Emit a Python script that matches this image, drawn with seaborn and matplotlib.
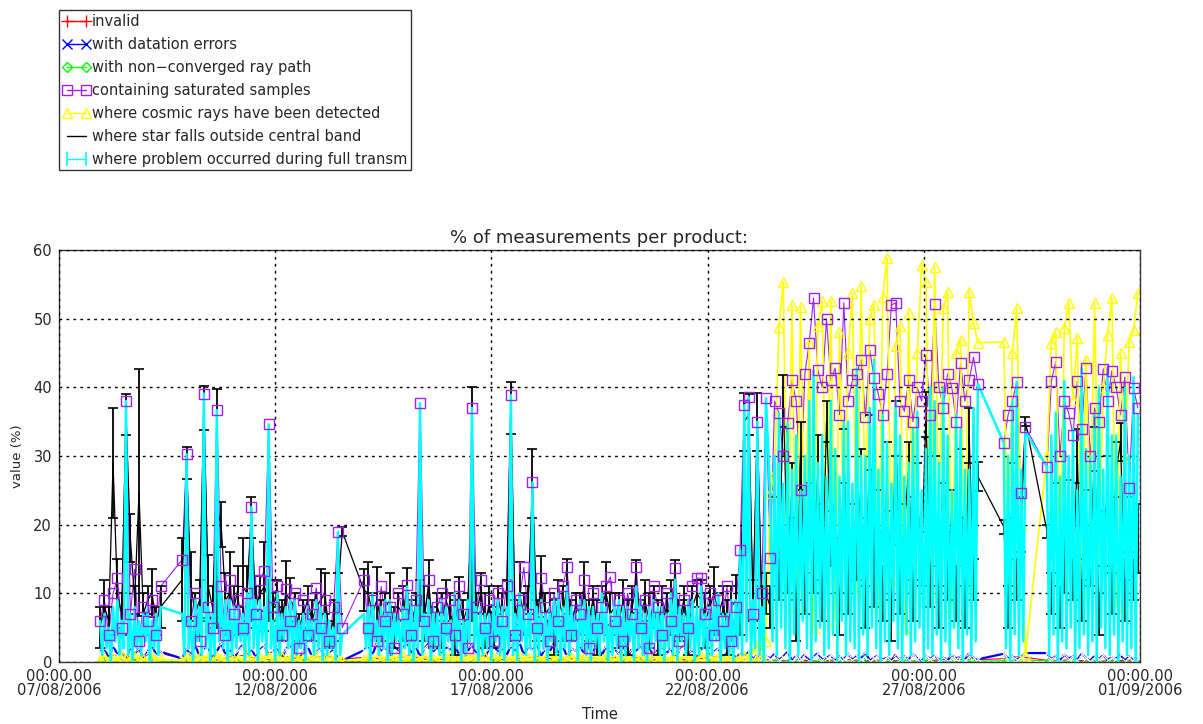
import numpy as np
import pandas as pd
import matplotlib
matplotlib.use("Agg")
import matplotlib.pyplot as plt
from matplotlib.lines import Line2D
import seaborn as sns

# ---------------- data ----------------
# start of each continuous block of products (days after 07/08/2006 00:00), one product every 0.1 day
seg_start = [0.95, 2.85, 7.05, 16.45, 21.85, 22.85]
sample_step = 0.1

# where problem occurred during full transm (cyan), main samples (local maxima)
problem_A = [6, 7, 5, 8, 9, 6, 38, 7, 8, 6, 7, 8, 6, 7, 8]
problem_B = [7, 30.3, 6, 9, 8, 39.1, 8, 7, 36.7, 10,
             9, 9, 8, 8, 7, 10, 22.6, 9, 9, 8,
             34.6, 6, 10, 7, 8, 9, 9, 6, 7, 8,
             6, 9, 8, 7, 6, 5, 18.9, 4]
problem_C = [7, 8, 10, 6, 8, 9, 9, 7, 7, 8,
             11, 9, 8, 37.7, 7, 9, 8, 7, 9, 8,
             6, 10, 9, 6, 9, 37, 8, 8, 7, 7,
             9, 9, 8, 8, 38.9, 7, 10, 8, 7, 26.2,
             8, 9, 7, 8, 9, 10, 8, 11, 8, 7,
             9, 9, 8, 8, 7, 10, 8, 7, 9, 9,
             8, 8, 7, 11, 9, 7, 8, 9, 8, 8,
             7, 10, 12, 8, 7, 9, 9, 8, 11, 7,
             8, 9, 10, 7, 7, 9, 9, 16.3, 37.4, 38.6,
             9, 35, 8, 38.4]
problem_D = [24, 30, 36.2, 26, 34.8, 28, 33, 25, 30, 38,
             42.5, 29, 33, 27, 38, 31, 27, 35, 35, 26,
             42.8, 30, 30, 37, 44, 28, 36, 32, 26, 38,
             33, 27, 29, 34, 36.5, 25, 31, 40, 38, 29,
             39.9, 33, 25, 36, 34, 28, 28, 37, 40.5]
problem_E = [31.9, 30, 38, 40.8, 28, 33.5]
problem_F = [28.4, 33, 36.3, 27, 40.9, 30, 34, 25, 42.8, 31,
             30, 36, 40, 28, 42.7, 33, 33, 27, 39.9, 30,
             41.5, 36]
# cyan intermediate samples (local minima, half-way between consecutive main samples)
problem_mid_A = [1, 2, 0, 3, 1, 2, 1, 0, 2, 1, 3, 0, 2, 1]
problem_mid_B = [1, 2, 0, 3, 1, 2, 0, 1, 3, 2,
                 0, 1, 2, 3, 0, 1, 2, 0, 3, 1,
                 2, 0, 1, 3, 2, 0, 1, 2, 0, 3,
                 1, 2, 0, 1, 2, 0, 1]
problem_mid_C = [2, 0, 3, 1, 2, 0, 1, 3, 0, 2,
                 1, 0, 2, 1, 3, 0, 2, 1, 0, 3,
                 1, 2, 0, 1, 3, 2, 0, 1, 2, 0,
                 3, 1, 0, 2, 1, 0, 3, 1, 2, 0,
                 1, 2, 0, 3, 1, 0, 2, 1, 3, 0,
                 2, 1, 0, 2, 1, 3, 0, 1, 2, 0,
                 1, 3, 0, 2, 1, 0, 2, 3, 1, 0,
                 2, 1, 0, 3, 1, 2, 0, 1, 2, 0,
                 1, 3, 0, 2, 1, 0, 2, 1, 3, 0,
                 2, 1, 0]
problem_mid_D = [3, 1, 5, 2, 0, 4, 1, 6, 2, 0,
                 3, 5, 1, 2, 4, 0, 6, 1, 3, 2,
                 0, 4, 1, 5, 2, 0, 3, 1, 6, 2,
                 0, 4, 1, 3, 5, 0, 2, 1, 4, 0,
                 3, 1, 5, 2, 0, 4, 1, 3]
problem_mid_E = [2, 0, 4, 1, 3]
problem_mid_F = [1, 4, 0, 3, 2, 5, 0, 2, 4, 1,
                 3, 0, 5, 2, 1, 4, 0, 3, 1, 2,
                 0]

# containing saturated samples (purple)
saturated_A = [6, 9, 4, 10, 12.2, 5, 38, 7, 13.5, 3, 8, 6, 9, 4, 11]
saturated_B = [14.9, 30.3, 6, 10, 3, 39.1, 8, 5, 36.7, 11,
               4, 12, 7, 9, 5, 10, 22.6, 7, 12, 13.3,
               34.6, 8, 11, 4, 10.6, 6, 10, 2, 9, 4,
               7, 10.8, 5, 9, 3, 8, 18.9, 5]
saturated_C = [12, 5, 9, 3, 11, 6, 8, 2, 10, 7,
               11.2, 4, 9, 37.7, 6, 12, 3, 8, 10, 5,
               9, 4, 11, 7, 2, 37, 8, 12, 5, 9,
               3, 10, 6, 11, 38.9, 4, 9, 13.8, 7, 26.2,
               5, 12.2, 8, 3, 10, 6, 11, 13.8, 4, 9,
               7, 12, 2, 10, 5, 8, 11, 12.4, 6, 9,
               3, 10, 7, 13.8, 5, 9, 2, 11, 8, 4,
               10, 6, 13.7, 3, 9, 5, 11, 12.2, 12.2, 7,
               10, 4, 9, 6, 11, 3, 8, 16.3, 37.4, 38.6,
               7, 35, 10, 38.4]
saturated_D = [15.1, 38, 36.2, 30, 34.8, 41, 38, 25, 42, 46.5,
               53, 42.5, 40, 50, 41, 42.8, 36, 52.3, 38, 41,
               42, 44, 35.7, 45.4, 41.4, 39, 36, 42, 52, 52.3,
               38, 36.5, 41, 35, 40, 38, 44.7, 36, 52.1, 40,
               37, 42, 39.9, 35, 43.5, 38, 41, 44.4, 40.5]
saturated_E = [31.9, 36, 38, 40.8, 24.6, 34.2]
saturated_F = [28.4, 40.9, 43.7, 30, 38, 36.3, 33, 40.9, 34, 42.8,
               30, 37, 35, 42.7, 38, 42.4, 40, 36, 41.5, 25.3,
               39.9, 37]

# where star falls outside central band (black) and its error
star_A = [5, 8, 6, 29, 10, 7, 36, 18, 9, 24.7, 7, 9, 10, 6, 8]
star_B = [12, 29, 11, 7, 9, 37, 11, 8, 22.4, 20,
          9, 10, 8, 11, 11, 10, 21, 8, 10, 11,
          9, 8, 10, 6, 10, 9, 8, 5, 7, 9,
          6, 8, 9, 10, 4, 6, 10, 19]
star_C = [10.5, 10, 7, 9, 6, 8, 9, 5, 8, 7,
          10, 6, 8, 9, 7, 11, 5, 8, 6, 9,
          7, 5, 9, 6, 8, 23, 7, 10, 6, 8,
          5, 9, 7, 8, 37, 6, 10, 7, 9, 26,
          6, 11, 7, 8, 5, 9, 7, 11, 6, 8,
          7, 10, 6, 9, 5, 8, 10, 7, 8, 6,
          9, 5, 8, 11, 7, 9, 6, 8, 5, 9,
          7, 8, 11, 6, 9, 5, 8, 10, 9, 6,
          8, 10, 7, 9, 5, 8, 9, 7, 35, 36,
          9, 35, 8, 10]
star_D = [8, 20, 12, 38, 15, 25, 6, 30, 10, 22,
          14, 28, 9, 35, 18, 24, 7, 30, 12, 20,
          16, 26, 8, 32, 14, 22, 10, 27, 6, 34,
          12, 20, 28, 9, 24, 15, 36, 11, 25, 8,
          30, 14, 22, 10, 26, 8, 33, 12, 27]
star_E = [19.7, 8, 25, 12, 20, 35]
star_F = [19, 10, 22, 8, 15, 22, 12, 30, 9, 20,
          14, 31, 7, 18, 25, 10, 28, 32, 9, 20,
          12, 18]
star_err_A = [3, 4, 2, 8, 5, 3, 3, 3.5, 2, 18, 3, 2, 3.5, 2, 3]
star_err_B = [6, 2.3, 5, 3, 3, 3.2, 4.6, 3, 17.4, 3.3,
              4, 6, 3, 3, 7, 4, 3, 3, 2.5, 6.5,
              3, 2, 2, 3, 4.7, 3.2, 2, 2, 2, 2,
              3, 2, 4.5, 3, 2, 3, 3, 0.7]
star_err_C = [3, 4.6, 3, 4.8, 3, 2, 4, 3, 2, 4,
              3.7, 3, 2, 3, 4, 3.8, 3, 2, 4, 3,
              3, 4, 3.4, 3, 2, 17, 3, 3, 4, 3,
              3, 2, 3, 4, 3.8, 3, 4.6, 3, 2, 5,
              3, 4.4, 3, 2, 4, 3, 4, 4, 3, 2,
              3, 4.6, 3, 2, 4, 3, 4.6, 3, 2, 4,
              3, 4, 3, 3.8, 2, 3, 4, 3, 4, 2,
              3, 4, 3.8, 3, 2, 4, 3, 2, 3, 4,
              3, 3.8, 3, 2, 4, 3, 3.7, 3, 4.2, 3,
              3, 4.2, 3, 3]
star_err_D = [3, 4, 3, 3.8, 5, 4, 3, 5, 3, 4,
              4, 5, 3, 3, 4, 6, 3, 4, 5, 3,
              4, 5, 3, 4, 6, 3, 4, 5, 3, 4,
              5, 3, 4, 3, 5, 4, 3.3, 3, 5, 3,
              4, 5, 3, 4, 5, 3, 4, 3, 2.1]
star_err_E = [1, 3, 4, 3, 4, 0.7]
star_err_F = [1, 3, 4, 3, 5, 4.5, 3, 4, 3, 5,
              3, 3.2, 3, 4, 5, 3, 4, 2.8, 3, 4,
              3, 5]

# where cosmic rays have been detected (yellow)
cosmic_A = [0.3, 0.8, 0.2, 0.6, 0.1, 0.9, 0.4, 0.2, 0.7, 0.3, 0.5, 0.1, 0.8, 0.2, 0.4]
cosmic_B = [0.2, 0.7, 0.1, 0.5, 0.9, 0.3, 0.6, 0.1, 0.8, 0.4,
            0.2, 0.7, 0.3, 0.5, 0.1, 0.9, 0.4, 0.2, 0.6, 0.3,
            0.8, 0.1, 0.5, 0.7, 0.2, 0.4, 0.9, 0.3, 0.6, 0.1,
            0.5, 0.8, 0.2, 0.4, 0.7, 0.3, 0.1, 0.2]
cosmic_C = [0.3, 0.6, 0.2, 0.8, 0.4, 0.1, 0.7, 0.3, 0.5, 0.9,
            0.2, 0.6, 0.4, 0.1, 0.8, 0.3, 0.5, 0.2, 0.7, 0.4,
            0.9, 0.1, 0.6, 0.3, 0.5, 0.8, 0.2, 0.4, 0.7, 0.1,
            0.6, 0.3, 0.9, 0.2, 0.5, 0.4, 0.8, 0.1, 0.6, 0.3,
            0.7, 0.2, 0.5, 0.9, 0.3, 0.6, 0.1, 0.4, 0.8, 0.2,
            0.5, 0.7, 0.3, 0.1, 0.6, 0.4, 0.9, 0.2, 0.5, 0.3,
            0.8, 0.1, 0.6, 0.4, 0.7, 0.2, 0.5, 0.9, 0.3, 0.6,
            0.1, 0.4, 0.8, 0.2, 0.7, 0.3, 0.5, 0.1, 0.9, 0.4,
            0.6, 0.2, 0.8, 0.3, 0.5, 0.7, 0.1, 0.4, 0.9, 0.6,
            1.2, 2.5, 0.8, 3.1]
cosmic_D = [24.6, 27.7, 48.8, 55.3, 10, 52, 8, 51.7, 15, 46.5,
            5, 49, 52.6, 12, 52.6, 6, 48, 18, 45, 53.7,
            10, 54.8, 20, 50, 52, 8, 53.2, 58.8, 12, 46,
            49, 5, 50.8, 15, 45, 57.8, 55.3, 10, 57.5, 20,
            51.5, 53.9, 8, 45, 46.9, 12, 53.9, 49.4, 46.5]
cosmic_E = [46.6, 12, 45, 51.5, 20, 1]
cosmic_F = [30, 46.5, 48, 12, 48.6, 52.3, 38.2, 47.2, 10, 44,
            20, 52.3, 15, 40, 47.6, 53, 8, 45, 30, 46.6,
            48.3, 53.7]

# with datation errors (blue)
datation_A = [1.5, 2, 0.5, 2.5, 1, 1.8, 0.3, 2.2, 1, 2, 0.5, 1.5, 2.5, 1, 1.5]
datation_B = [0.5, 2, 1, 2.5, 0.8, 1.8, 2.2, 0.5, 1.5, 2.8,
              1, 2, 0.4, 1.7, 2.5, 1, 2, 0.6, 1.8, 2.4,
              1, 1.5, 2.2, 0.5, 1.9, 2.6, 1.1, 0.4, 1.6, 2.3,
              0.8, 1.4, 2, 0.6, 1.2, 1.8, 0.5, 0.2]
datation_C = [1.7, 2.5, 1, 2.8, 1.5, 2.2, 0.8, 2.6, 1.4, 2,
              2.9, 1.2, 2.4, 0.7, 2, 2.7, 1.3, 2.3, 1, 2.5,
              1.6, 2.8, 0.9, 2.1, 1.5, 2.6, 1.1, 2.4, 0.6, 2,
              2.7, 1.3, 2.2, 0.9, 2.5, 1.4, 2.9, 1, 2.3, 1.7,
              2.6, 0.8, 2.1, 1.5, 2.8, 1.2, 2.4, 0.7, 2, 1.6,
              2.5, 1, 2.2, 1.4, 2.7, 0.9, 2.3, 1.3, 2, 1.1,
              2.4, 0.8, 1.9, 1.5, 2.6, 1, 2.2, 0.7, 1.8, 2.3,
              1.2, 2, 0.6, 1.7, 2.4, 1, 1.9, 0.5, 1.6, 2.1,
              0.9, 1.5, 2, 0.6, 1.4, 1.8, 0.5, 1.2, 0.8, 1.5,
              0.4, 1.1, 0.6, 0.9]
datation_D = [0.5, 1.2, 0.3, 0.8, 1.5, 0.2, 0.9, 0.4, 1.1, 0.2,
              0.7, 1.3, 0.3, 0.6, 1, 0.2, 0.8, 0.4, 1.2, 0.3,
              0.9, 0.5, 1.4, 0.2, 0.6, 1, 0.3, 0.7, 0.2, 1.1,
              0.4, 0.8, 0.3, 1.2, 0.5, 0.2, 0.9, 0.4, 1, 0.3,
              0.7, 0.2, 1.1, 0.5, 0.8, 0.3, 1.3, 0.6, 0.4]
datation_E = [1.2, 0.5, 0.9, 0.3, 0.7, 1.3]
datation_F = [1.3, 0.4, 0.9, 0.2, 1.1, 0.5, 0.8, 0.3, 1.2, 0.6,
              0.2, 0.9, 0.4, 1, 0.3, 0.7, 0.5, 1.1, 0.2, 0.8,
              0.4, 0.6]

# invalid (red) and non-converged ray path (green), sparser sampling
sparse_days = [1.0, 1.4, 1.8, 2.2,
               2.9, 3.3, 3.7, 4.1, 4.5, 4.9, 5.3, 5.7, 6.1, 6.5,
               7.1, 7.6, 8.1, 8.6, 9.1, 9.6, 10.1, 10.6, 11.1, 11.6,
               12.1, 12.6, 13.1, 13.6, 14.1, 14.6, 15.1, 15.6, 16.1,
               16.6, 17.1, 17.6, 18.1, 18.6, 19.1, 19.6, 20.1, 20.6, 21.1,
               21.9, 22.2,
               22.9, 23.4, 23.9, 24.4, 24.9]
invalid_vals = [0.5, 1.2, 0.3, 1.5,
                0.4, 0.9, 0.2, 1.1, 0.6, 0.3, 0.8, 0.2, 1, 0.4,
                0.7, 0.3, 0.9, 0.2, 0.6, 1.1, 0.3, 0.5, 0.8, 0.2,
                0.7, 0.4, 0.9, 0.3, 0.6, 0.2, 0.8, 0.4, 0.5,
                0.2, 0.3, 0.1, 0.4, 0.2, 0.3, 0.1, 0.2, 0.4, 0.3,
                0.5, 0.8,
                0.2, 0.3, 0.1, 0.2, 0.3]
nonconv_vals = [0.1, 0.0, 0.2, 0.1,
                0.0, 0.1, 0.0, 0.2, 0.1, 0.0, 0.1, 0.2, 0.0, 0.1,
                0.0, 0.1, 0.2, 0.0, 0.1, 0.0, 0.1, 0.0, 0.2, 0.1,
                0.0, 0.1, 0.0, 0.2, 0.1, 0.0, 0.1, 0.0, 0.1,
                0.2, 0.0, 0.1, 0.0, 0.1, 0.0, 0.2, 0.1, 0.0, 0.1,
                0.2, 0.3,
                0.2, 0.1, 0.0, 0.1, 0.0]

tick_dates = ["2006-08-07", "2006-08-12", "2006-08-17", "2006-08-22", "2006-08-27", "2006-09-01"]
tick_labels = ["00:00.00\n07/08/2006", "00:00.00\n12/08/2006", "00:00.00\n17/08/2006",
               "00:00.00\n22/08/2006", "00:00.00\n27/08/2006", "00:00.00\n01/09/2006"]
y_ticks = [0, 10, 20, 30, 40, 50, 60]

# ---------------- assemble ----------------
main_segs = [problem_A, problem_B, problem_C, problem_D, problem_E, problem_F]
mid_segs = [problem_mid_A, problem_mid_B, problem_mid_C, problem_mid_D, problem_mid_E, problem_mid_F]
saturated = np.concatenate([saturated_A, saturated_B, saturated_C, saturated_D, saturated_E, saturated_F])
star = np.concatenate([star_A, star_B, star_C, star_D, star_E, star_F])
star_err = np.concatenate([star_err_A, star_err_B, star_err_C, star_err_D, star_err_E, star_err_F])
cosmic = np.concatenate([cosmic_A, cosmic_B, cosmic_C, cosmic_D, cosmic_E, cosmic_F])
datation = np.concatenate([datation_A, datation_B, datation_C, datation_D, datation_E, datation_F])
seg_days = [s + sample_step * np.arange(len(m)) for s, m in zip(seg_start, main_segs)]
days = np.concatenate(seg_days)

# cyan: main samples interleaved with the intermediate ones
cy_days, cy_vals = [], []
for d, m, h in zip(seg_days, main_segs, mid_segs):
    for i in range(len(m)):
        cy_days.append(d[i]); cy_vals.append(m[i])
        if i < len(h):
            cy_days.append(d[i] + sample_step / 2); cy_vals.append(h[i])

base = pd.Timestamp("2006-08-07")
times = base + pd.to_timedelta(days, unit="D")
cy_times = base + pd.to_timedelta(np.array(cy_days), unit="D")
sparse_times = base + pd.to_timedelta(np.array(sparse_days), unit="D")

# ---------------- plot ----------------
sns.set_style("white")
plt.rcParams["font.family"] = ["DejaVu Sans"]

fig = plt.figure(figsize=(12.03, 7.24), dpi=100)
ax = fig.add_axes([59 / 1203, 1 - 662 / 724, (1140 - 59) / 1203, (662 - 250) / 724])

RED, BLUE, GREEN = "#ff0000", "#0000ff", "#00ff00"
PURPLE, YELLOW, BLACK, CYAN = "#a020f0", "#ffff00", "#000000", "#00ffff"

sns.lineplot(x=sparse_times, y=invalid_vals, ax=ax, color=RED, lw=0.8, marker="+", ms=7,
             mew=1, estimator=None, zorder=2.0)
sns.lineplot(x=sparse_times, y=nonconv_vals, ax=ax, color=GREEN, lw=0.8, marker="D", ms=4,
             mfc="none", mec=GREEN, estimator=None, zorder=2.1)
sns.lineplot(x=times, y=datation, ax=ax, color=BLUE, lw=1.6, marker="x", ms=5, mew=0.8,
             estimator=None, zorder=2.2)
sns.lineplot(x=times, y=saturated, ax=ax, color=PURPLE, lw=0.8, estimator=None, zorder=2.3)
sns.lineplot(x=times, y=cosmic, ax=ax, color=YELLOW, lw=1.2, marker="^", ms=7, mfc="none",
             mec=YELLOW, mew=1, estimator=None, zorder=2.5)
sns.lineplot(x=times, y=star, ax=ax, color=BLACK, lw=0.9, estimator=None, zorder=3.0)
ax.errorbar(times, star, yerr=star_err, fmt="none", ecolor=BLACK, elinewidth=1.3,
            capsize=3.5, capthick=1.2, zorder=3.2)
sns.lineplot(x=cy_times, y=cy_vals, ax=ax, color=CYAN, lw=1.8, estimator=None, zorder=3.5)
sns.lineplot(x=times, y=saturated, ax=ax, color=PURPLE, lw=0, marker="s", ms=7, mfc="none",
             mec=PURPLE, mew=1, estimator=None, zorder=4.0)

ax.set_xlim(pd.Timestamp(tick_dates[0]), pd.Timestamp(tick_dates[-1]))
ax.set_ylim(0, 60)
ax.set_xticks(pd.to_datetime(tick_dates))
ax.set_xticklabels(tick_labels, fontsize=10.5, linespacing=0.95)
ax.set_yticks(y_ticks)
ax.set_yticklabels([str(v) for v in y_ticks], fontsize=10.5)
ax.tick_params(axis="both", length=0, pad=5)
ax.set_xlabel("Time", fontsize=10.5, labelpad=6)
ax.set_ylabel("value (%)", fontsize=9.5, labelpad=7)
ax.set_title("% of measurements per product:", fontsize=13, pad=5)

ax.grid(True, color="black", linestyle=(0, (2, 3)), linewidth=1.0)
ax.set_axisbelow(False)
for gl in ax.get_xgridlines() + ax.get_ygridlines():
    gl.set_zorder(5)
for sp in ax.spines.values():
    sp.set_color("#333333")
    sp.set_linewidth(1.0)

handles = [
    Line2D([], [], color=RED, lw=1, marker="+", ms=9, mew=1),
    Line2D([], [], color=BLUE, lw=1, marker="x", ms=7, mew=1),
    Line2D([], [], color=GREEN, lw=1, marker="D", ms=5, mfc="none", mec=GREEN),
    Line2D([], [], color=PURPLE, lw=1, marker="s", ms=7, mfc="none", mec=PURPLE),
    Line2D([], [], color=YELLOW, lw=1, marker="^", ms=7, mfc="none", mec=YELLOW),
    Line2D([], [], color=BLACK, lw=1),
    Line2D([], [], color=CYAN, lw=1, marker="|", ms=10, mew=1.2),
]
labels = ["invalid", "with datation errors", "with non\u2212converged ray path",
          "containing saturated samples", "where cosmic rays have been detected",
          "where star falls outside central band", "where problem occurred during full transm"]
leg = fig.legend(handles, labels, loc="upper left", bbox_to_anchor=(59 / 1203, 1 - 10 / 724),
                 bbox_transform=fig.transFigure, borderaxespad=0, fontsize=10.5, numpoints=2,
                 handlelength=1.9, handletextpad=0.12, labelspacing=0.55, borderpad=0.25,
                 frameon=True, fancybox=False, edgecolor="black")
leg.get_frame().set_linewidth(1.0)

fig.savefig("out.png", dpi=100)
